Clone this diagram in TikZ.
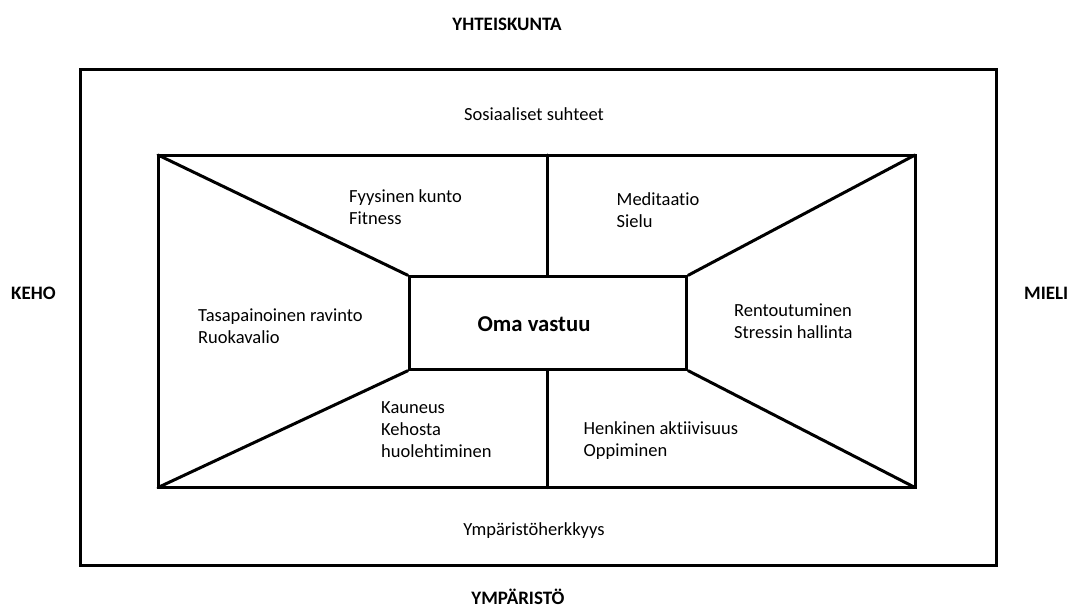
\documentclass[tikz,border=0pt]{standalone}
\usepackage{fontspec}
\setmainfont{Carlito}[Ligatures={NoCommon,NoRequired,NoContextual}]
\begin{document}
\begin{tikzpicture}[x=1pt,y=-1pt,
  frame/.style={draw=black,line width=3pt},
  edge/.style={draw=black,line width=3pt,line cap=round},
  lbl/.style={inner sep=0pt,anchor=base west,font=\fontsize{18.5}{22}\selectfont},
  clbl/.style={inner sep=0pt,anchor=base,font=\fontsize{18.5}{22}\selectfont},
  head/.style={inner sep=0pt,anchor=base,font=\fontsize{19}{23}\selectfont\bfseries}]
\useasboundingbox (0,0) rectangle (1067,608);
% outer frame
\draw[frame] (80.5,69) rectangle (996.5,565);
% inner frame corners
\coordinate (itl) at (158,155);
\coordinate (itr) at (915,155);
\coordinate (ibl) at (158,487.5);
\coordinate (ibr) at (915,487.5);
\draw[frame] (itl) rectangle (ibr);
% center box
\node[frame,minimum width=277.5pt,minimum height=92.5pt,inner sep=0pt] (ctr) at (548,323) {};
\node[inner sep=0pt,anchor=base,font=\fontsize{22.7}{27}\selectfont\bfseries] (oma) at (534,331) {Oma vastuu};
% diagonals
\draw[edge] (itl) -- (ctr.north west);
\draw[edge] (itr) -- (ctr.north east);
\draw[edge] (ibl) -- (ctr.south west);
\draw[edge] (ibr) -- (ctr.south east);
% vertical dividers
\coordinate (vt) at (547,155);
\coordinate (vb) at (547,487.5);
\draw[edge] (vt) -- (vt |- ctr.north);
\draw[edge] (vb) -- (vb |- ctr.south);
% headings
\node[head] (yht) at (507,30) {YHTEISKUNTA};
\node[head] (ymp) at (518,604.5) {YMPÄRISTÖ};
\node[head,anchor=base west] (keho) at (11,299.5) {KEHO};
\node[head,anchor=base west] (mieli) at (1024,299.5) {MIELI};
% labels
\node[clbl] (sos) at (534,120) {Sosiaaliset suhteet};
\node[clbl] (ymph) at (534,535) {Ympäristöherkkyys};
\node[lbl] (f1) at (349,202.5) {Fyysinen kunto};
\node[lbl] (f2) at (349,224.5) {Fitness};
\node[lbl] (m1) at (616.5,205) {Meditaatio};
\node[lbl] (m2) at (616.5,227) {Sielu};
\node[lbl] (t1) at (198,321) {Tasapainoinen ravinto};
\node[lbl] (t2) at (198,343) {Ruokavalio};
\node[lbl] (r1) at (734,316) {Rentoutuminen};
\node[lbl] (r2) at (734,338) {Stressin hallinta};
\node[lbl] (k1) at (381,413.5) {Kauneus};
\node[lbl] (k2) at (381,435.5) {Kehosta};
\node[lbl] (k3) at (381,457.5) {huolehtiminen};
\node[lbl] (h1) at (583.5,434.5) {Henkinen aktiivisuus};
\node[lbl] (h2) at (583.5,456.5) {Oppiminen};
\end{tikzpicture}
\end{document}
